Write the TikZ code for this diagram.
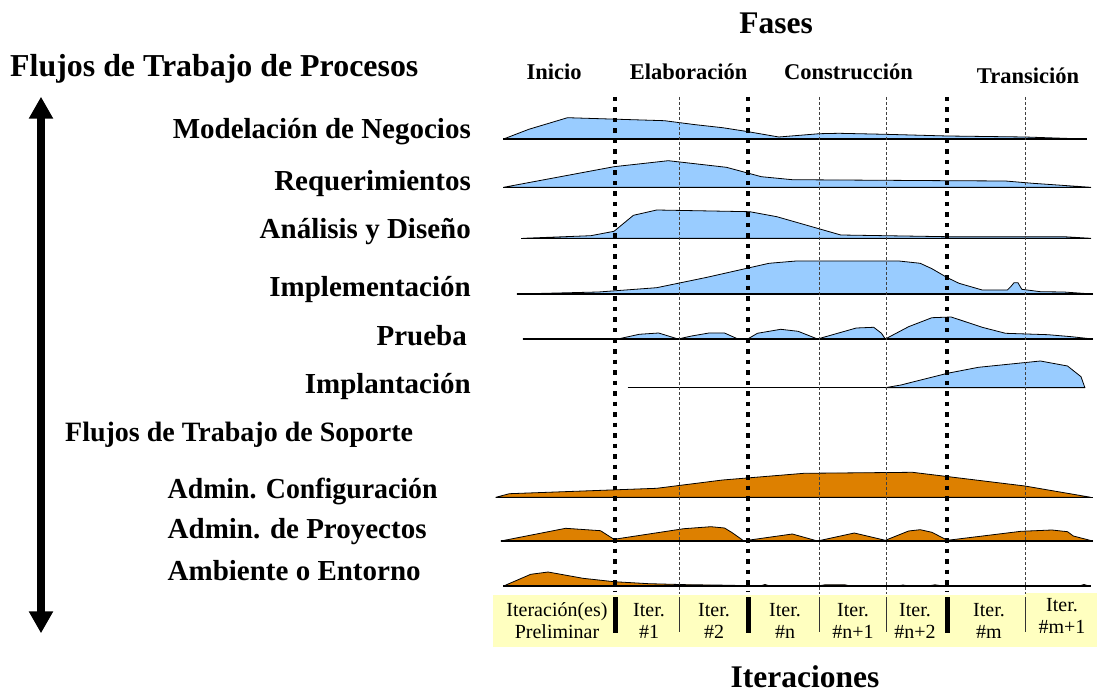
\documentclass[tikz,border=0pt]{standalone}
\usepackage{fontspec}
\usepackage{graphicx}
\setmainfont{Liberation Serif}
\usetikzlibrary{arrows.meta}
\definecolor{humpblue}{RGB}{153,204,255}
\definecolor{humporange}{RGB}{221,128,0}
\definecolor{iterbg}{RGB}{255,255,192}
\tikzset{
  hump/.style={draw=black, line width=0.8pt, fill=humpblue, line join=round},
  humpor/.style={draw=black, line width=0.8pt, fill=humporange, line join=round},
  rowline/.style={draw=black, line width=1.3pt},
  phasesep/.style={draw=black, line width=4.5pt, dash pattern=on 4.5pt off 6pt},
  itersep/.style={draw=black!75, line width=0.5pt, dash pattern=on 3pt off 2pt},
  phasebar/.style={draw=black, line width=5pt},
  iterbar/.style={draw=black!80, line width=0.8pt},
  wflabel/.style={font=\fontsize{29}{29}\selectfont\bfseries, anchor=base east, inner sep=0pt},
  suplabel/.style={font=\fontsize{29}{29}\selectfont\bfseries, anchor=base west, inner sep=0pt},
  grouplabel/.style={font=\fontsize{28}{28}\selectfont\bfseries, anchor=base west, inner sep=0pt},
  phaselabel/.style={font=\fontsize{22.5}{22.5}\selectfont\bfseries, anchor=base, inner sep=0pt},
  bigtitle/.style={font=\fontsize{31.5}{31.5}\selectfont\bfseries, anchor=base, inner sep=0pt},
  itertext/.style={font=\fontsize{20}{20}\selectfont, anchor=base, inner sep=0pt},
  bigarrow/.style={line width=7.5pt, {Triangle[width=23pt,length=22pt]}-{Triangle[width=23pt,length=22pt]}}
}
\begin{document}
\begin{tikzpicture}[x=1pt,y=-1pt]
\useasboundingbox (0,0) rectangle (1097,692);
\fill[white] (0,0) rectangle (1097,692);

% titles
\node[bigtitle] (fases) at (776,33.3) {Fases};
\node[bigtitle] (iteraciones) at (805,687) {Iteraciones};
\node[font=\fontsize{31.9}{31.9}\selectfont\bfseries, anchor=base west, inner sep=0pt] (procesos) at (10,76.5) {Flujos de Trabajo de Procesos};

% phases
\node[phaselabel] (inicio) at (554,80) {Inicio};
\node[phaselabel] (elab) at (688.5,80) {Elaboración};
\node[phaselabel] (constr) at (848.5,80) {Construcción};
\node[phaselabel] (trans) at (1028,83.3) {Transición};

% workflow labels
\node[wflabel] (l1) at (471,138.3) {Modelación de Negocios};
\node[wflabel] (l2) at (471,191) {Requerimientos};
\node[wflabel] (l3) at (471,238.3) {Análisis y Diseño};
\node[wflabel] (l4) at (471,296.7) {Implementación};
\node[wflabel] (l5) at (467,345) {Prueba};
\node[wflabel] (l6) at (471,393.3) {Implantación};
\node[grouplabel] (soporte) at (65,441.7) {Flujos de Trabajo de Soporte};
\node[suplabel] (l7) at (167.5,498.3) {\scalebox{0.96}[1]{Admin. Configuración}};
\node[suplabel] (l8) at (167.5,538.3) {Admin. de Proyectos};
\node[suplabel] (l9) at (167.5,580) {Ambiente o Entorno};

% arrow
\coordinate (atop) at (41,96.7);
\coordinate (abot) at (41,633.3);
\draw[bigarrow] (atop) -- (abot);

% humps: Modelacion de Negocios
\filldraw[hump] (503.6,139) -- (528.8,129.3) -- (567.5,117.7) -- (664.4,120.7) -- (695.4,124.7) -- (722.6,127.7) -- (745.8,131.3) -- (778.8,137) -- (819.5,133.7) -- (838.8,133.3) -- (885.3,134.3) -- (947.4,136) -- (1024.9,137) -- (1084.9,139) -- cycle;
\draw[rowline] (503,139) -- (1087,139);
% Requerimientos
\filldraw[hump] (503.6,187.3) -- (614,166.7) -- (668.3,160.7) -- (726.4,167.3) -- (761.3,176.7) -- (792.3,179.7) -- (947.4,180.7) -- (1005.5,181) -- (1032.6,183.3) -- (1090.8,187.3) -- cycle;
\draw[rowline] (503,187.3) -- (1091,187.3);
% Analisis
\filldraw[hump] (523,238.3) -- (590.8,235.7) -- (614,231.3) -- (633.4,215.3) -- (656.7,210) -- (749.7,211.7) -- (776.8,216.7) -- (840.8,235) -- (947.4,236.7) -- (1063.6,236.7) -- (1090.8,238.3) -- cycle;
\draw[rowline] (521,238.3) -- (1091,238.3);
% Implementacion
\filldraw[hump] (517.1,294) -- (598.5,292) -- (656.7,287.7) -- (707,277.3) -- (769,263.3) -- (796.2,261) -- (898.9,261) -- (920.2,263.3) -- (931.9,268.7) -- (947.4,277.7) -- (959,283.3) -- (982.2,290) -- (1007.4,290) -- (1011.3,286) -- (1014,282.7) -- (1017.9,282.7) -- (1021.8,289.3) -- (1040.4,291.7) -- (1063.6,292) -- (1092.7,294) -- cycle;
\draw[rowline] (517,294) -- (1093,294);
% Prueba
\filldraw[hump] (523,339) -- (617.9,339) -- (639.2,334.3) -- (658.6,333) -- (678,339) -- (691.6,336) -- (709,333) -- (724.5,333) -- (738,339) -- (747.7,339) -- (757.4,333.3) -- (780.7,329.3) -- (798.1,331.3) -- (817.5,339) -- (856.3,328) -- (873.7,327.3) -- (881.5,333.3) -- (885.3,339) -- (908.6,326.7) -- (931.9,317.7) -- (951.2,317) -- (982.2,327.3) -- (1005.5,333.3) -- (1048.1,334.7) -- (1071.4,336.7) -- (1092.7,339) -- cycle;
\draw[rowline] (523,339) -- (1093,339);
% Implantacion
\filldraw[hump] (885.3,387.7) -- (900.9,385) -- (947.4,373.3) -- (978.4,367.3) -- (1040.4,361) -- (1067.5,366) -- (1081,376.7) -- (1084.9,387.7) -- cycle;
\draw[rowline] (627.6,387.7) -- (1085,387.7);

% Admin. Configuracion
\filldraw[humpor] (495.8,497.3) -- (509.4,493.7) -- (656.7,488.3) -- (722.6,480) -- (804,473.3) -- (912.5,472.3) -- (1024.9,486) -- (1090.8,497.3) -- cycle;
\draw[rowline] (495.8,497.3) -- (1092.7,497.3);
% Admin. de Proyectos
\filldraw[humpor] (500.9,541) -- (565.6,528.3) -- (600.5,530.7) -- (614,539.3) -- (683.8,528.7) -- (710.9,526.7) -- (724.5,528) -- (732.2,532.7) -- (743.9,541) -- (749.7,540) -- (792.3,534) -- (817.5,541) -- (854.3,533) -- (885.3,540.3) -- (908.6,531) -- (920.2,529.7) -- (931.9,532.3) -- (947.4,540.3) -- (1021,531.3) -- (1052,530) -- (1067.5,531.7) -- (1073.3,536) -- (1092.7,541) -- cycle;
\draw[rowline] (500.9,541) -- (1092.7,541);
% Ambiente
\filldraw[humpor] (503.6,586) -- (530.7,574.3) -- (548.1,572) -- (583,578.3) -- (614,581.7) -- (648.9,583.7) -- (687.7,584.7) -- (734.2,585.3) -- (740,586) -- cycle;
\filldraw[humpor] (760,586) -- (765,584.5) -- (770,586) -- cycle;
\filldraw[humpor] (818,586) -- (825,584.8) -- (845,584.8) -- (850,586) -- cycle;
\filldraw[humpor] (897,586) -- (903,585) -- (909,586) -- cycle;
\filldraw[humpor] (928,586) -- (935,584.8) -- (943,586) -- cycle;
\filldraw[humpor] (1079,586) -- (1084,584.5) -- (1089,586) -- cycle;
\draw[rowline] (503,586) -- (1091,586);

% iteration band
\fill[iterbg] (493,595) rectangle (1025,647);
\fill[iterbg] (1025,592.5) rectangle (1097,647);

% phase and iteration separators
\foreach \px in {615,748,947} {
  \draw[phasesep] (\px,97) -- (\px,591);
  \draw[phasebar] (\px,597) -- (\px,633.3);
}
\foreach \ix in {679,819,886,1025} {
  \draw[itersep] (\ix,97) -- (\ix,594);
  \draw[iterbar] (\ix,597) -- (\ix,632);
}

% iteration texts
\node[itertext] (c1a) at (557,616.7) {Iteración(es)};
\node[itertext] (c1b) at (557,638) {Preliminar};
\node[itertext] (c2a) at (649,616.7) {Iter.};
\node[itertext] (c2b) at (649,638) {\#1};
\node[itertext] (c3a) at (714,616.7) {Iter.};
\node[itertext] (c3b) at (714,638) {\#2};
\node[itertext] (c4a) at (785,616.7) {Iter.};
\node[itertext] (c4b) at (785,638) {\#n};
\node[itertext] (c5a) at (853,616.7) {Iter.};
\node[itertext] (c5b) at (853,638) {\#n+1};
\node[itertext] (c6a) at (915,616.7) {Iter.};
\node[itertext] (c6b) at (915,638) {\#n+2};
\node[itertext] (c7a) at (989,616.7) {Iter.};
\node[itertext] (c7b) at (989,638) {\#m};
\node[itertext] (c8a) at (1062,611) {Iter.};
\node[itertext] (c8b) at (1062,633) {\#m+1};
\end{tikzpicture}
\end{document}
